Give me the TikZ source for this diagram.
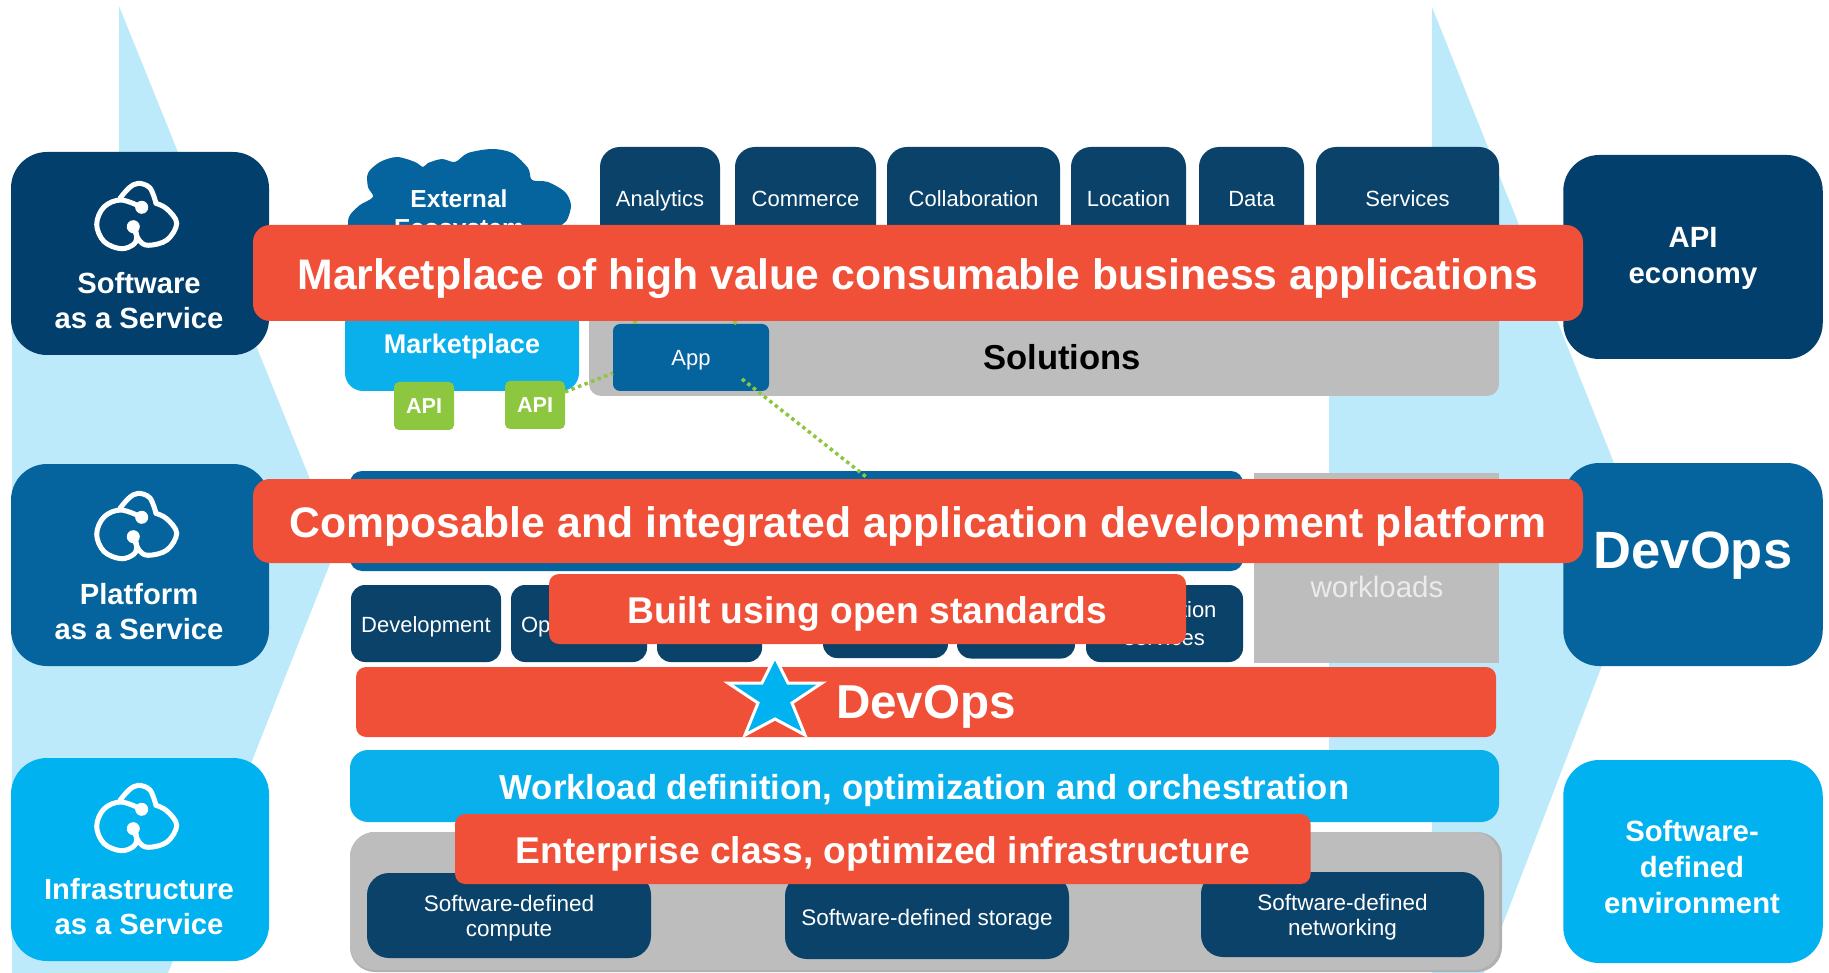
\documentclass[tikz,border=0pt]{standalone}
\usepackage{fontspec}
\setmainfont{Liberation Sans}
\usepackage{xcolor}
\usepackage{tikz}
\usetikzlibrary{calc, positioning}
\definecolor{navyBlue}{HTML}{033F6C}
\definecolor{midBlue}{HTML}{05649E}
\definecolor{skyBlue}{HTML}{00B2EF}
\definecolor{barBlue}{HTML}{0AB0EC}
\definecolor{tileBlue}{HTML}{0A4269}
\definecolor{paleBlue}{HTML}{BDEAFA}
\definecolor{redBand}{HTML}{F15038}
\definecolor{softGray}{HTML}{BDBDBD}
\definecolor{apiGreen}{HTML}{8DC63F}
\newcommand{\fsz}[2]{\fontsize{#1}{#2}\selectfont}
\newcommand{\dropText}[2]{\raisebox{-#1}[0pt][0pt]{#2}}
\tikzset{
    panel/.style={rectangle, rounded corners=36pt, inner sep=0pt, outer sep=0pt, text=white, align=center},
    tile/.style={rectangle, rounded corners=14pt, fill=tileBlue, inner sep=0pt, outer sep=0pt, text=white, align=center, font=\fsz{22}{28}},
    oneLine/.style={text height=22pt, text depth=5pt},
    topTile/.style={tile, oneLine, rounded corners=20pt, minimum height=103pt},
    lowTile/.style={tile, minimum height=77pt},
    sdTile/.style={tile, rounded corners=22pt, minimum height=85pt},
    sdText/.style={text=white, align=center, font=\fsz{22.5}{25}},
    band/.style={rectangle, rounded corners=10pt, fill=redBand, inner sep=0pt, outer sep=0pt, text=white, align=center, font=\bfseries},
    bigBand/.style={band, rounded corners=17pt, minimum width=1330pt, font=\bfseries\fsz{42.7}{44}},
    sideText/.style={text=white, align=center, font=\bfseries\fsz{29.2}{35}},
    rightText/.style={text=white, align=center, font=\bfseries\fsz{29.3}{36}},
    apiTag/.style={rectangle, rounded corners=5pt, fill=apiGreen, minimum width=60pt, minimum height=48pt, inner sep=0pt, outer sep=0pt, text=white, font=\bfseries\fsz{21.6}{24}},
    apiLink/.style={draw=apiGreen, line width=3.5pt, dash pattern=on 3.5pt off 3.5pt},
    svcIcon/.pic={
        \draw[white, line width=5pt, line cap=round] plot[smooth, tension=0.6] coordinates {(4.7,-7.7) (-16,-15) (-33,-8) (-40.3,9.3) (-33,26.5) (-16,33.7) (-3,29) (-0.3,20) (-3.7,11.7)};
        \draw[white, line width=5pt, line cap=round] plot[smooth, tension=0.6] coordinates {(-3.7,11.7) (2,25) (11.3,30.3) (30,25) (39.7,8.3) (30,-6) (19,-11.7)};
        \draw[white, line width=5pt, line cap=round] plot[smooth, tension=0.6] coordinates {(-17,-16.7) (-8,-27) (1.3,-31.7) (13,-27) (19,-11.7)};
        \fill[white] (4.7,-7.7) circle (6.5pt) (-3.7,11.7) circle (6.5pt);
    }
}
\begin{document}
\begin{tikzpicture}[x=1pt, y=-1pt]
    \useasboundingbox (0,0) rectangle (1829,973);
    % Arrows behind
    \fill[paleBlue] (119,6) -- (337,546) -- (168,973) -- (12,973) -- (12,300) -- (119,300) -- cycle;
    \fill[paleBlue] (1432,7) -- (1647.5,547) -- (1484,973) -- (1432,973) -- (1432,800) -- (1329,800) -- (1329,396) -- (1432,396) -- cycle;

    % Left column
    \node[panel, fill=navyBlue, minimum width=258pt, minimum height=203pt] (saasBox) at (140,253.5) {};
    \node[panel, fill=midBlue, minimum width=258pt, minimum height=202pt] (paasBox) at (140,565) {};
    \node[panel, fill=skyBlue, minimum width=258pt, minimum height=203pt] (iaasBox) at (140,859.5) {};
    \pic at (137,215) {svcIcon};
    \pic at (137,525) {svcIcon};
    \pic at (137,817) {svcIcon};
    \node[sideText] (saasText) at (139,301) {Software\\as a Service};
    \node[sideText] (paasText) at (139,612) {Platform\\as a Service};
    \node[sideText] (iaasText) at (139,907) {Infrastructure\\as a Service};

    % Right column
    \node[panel, fill=navyBlue, minimum width=259.5pt, minimum height=204pt] (apiBox) at (1693,257) {};
    \node[panel, fill=midBlue, minimum width=259.5pt, minimum height=203pt] (devBox) at (1693,564.5) {};
    \node[panel, fill=skyBlue, minimum width=259.5pt, minimum height=203pt] (sdeBox) at (1693,861.5) {};
    \node[rightText] (apiText) at (1693,258) {API\\economy};
    \node[rightText, font=\bfseries\fsz{52.5}{56}] (devText) at (1693,556) {DevOps};
    \node[rightText] (sdeText) at (1692,867.5) {Software-\\defined\\environment};

    % Top row
    \node[topTile, minimum width=120pt] (tabAnalytics) at (660,198.5) {Analytics};
    \node[topTile, minimum width=141pt, right=15pt of tabAnalytics] (tabCommerce) {Commerce};
    \node[topTile, minimum width=173pt, right=11pt of tabCommerce] (tabCollab) {Collaboration};
    \node[topTile, minimum width=115pt, right=11pt of tabCollab] (tabLocation) {Location};
    \node[topTile, minimum width=105pt, right=13pt of tabLocation] (tabData) {Data};
    \node[topTile, minimum width=183pt, right=12pt of tabData] (tabServices) {Services};

    % Cloud and marketplace
    \fill[midBlue] plot[smooth cycle, tension=0.5] coordinates {(348,224) (350,215) (360,205) (373,197) (368,187) (368,173) (380,162) (397,157) (415,162) (423,167) (428,163) (442,159) (455,162) (468,153) (492,149) (512,153) (528,168) (532,180) (548,182) (565,192) (571,205) (567,220) (558,230) (558,255) (348,255)};
    \node[text=white, align=center, font=\bfseries\fsz{24.6}{29}] (extText) at (459,215.5) {External\\Ecosystem};
    \node[panel, rounded corners=18pt, fill=barBlue, minimum width=234pt, minimum height=94pt, text height=25pt, text depth=6pt, font=\bfseries\fsz{27}{30}] (marketBox) at (462,344) {Marketplace};
    \node[apiTag] (apiOne) at (424,406) {API};
    \node[apiTag] (apiTwo) at (535,405) {API};

    % Solutions
    \node[panel, rounded corners=12pt, fill=softGray, minimum width=910pt, minimum height=96pt] (solBox) at (1044,348) {};
    \node[text=black, font=\bfseries\fsz{34.6}{38}] (solText) at (1062,357) {Solutions};
    \node[panel, oneLine, rounded corners=7pt, fill=midBlue, minimum width=156pt, minimum height=67pt, font=\fsz{22}{26}] (appTile) at (691,357.5) {App};

    % Platform
    \node[panel, rounded corners=12pt, fill=midBlue, minimum width=893pt, minimum height=100pt] (platBar) at (796.5,521) {};
    \node[rectangle, fill=softGray, minimum width=245pt, minimum height=190pt, inner sep=0pt, outer sep=0pt] (loadBox) at (1376.5,568) {};
    \node[text=white!92!black, font=\fsz{29.5}{32}] (loadText) at (1377,587) {workloads};
    \node[lowTile, oneLine, minimum width=150pt] (devTile) at (426,623.5) {Development};
    \node[lowTile, minimum width=136pt, right=10pt of devTile] (opTile) {};
    \node[tile, oneLine, fill=none, anchor=west, xshift=10pt] (opText) at (opTile.west) {Op};
    \node[lowTile, minimum width=105pt, right=10pt of opTile] (thirdTile) {};
    \node[tile, minimum width=125pt, minimum height=58pt] (fourthTile) at (885.5,629) {};
    \node[tile, minimum width=118pt, minimum height=59pt, right=9pt of fourthTile] (fifthTile) {};
    \node[lowTile, minimum width=157pt] (lastTile) at (1164.5,623.5) {Integration\\services};

    % Links
    \draw[apiLink] ([yshift=13pt]apiTwo.east) -- ([yshift=-15.5pt]appTile.west);
    \draw[apiLink] ([xshift=51pt,yshift=-21.5pt]appTile.center) -- ([xshift=71pt,yshift=-7pt]platBar.north);
    \draw[apiLink] ([xshift=-56pt]appTile.north) -- ([xshift=-25pt]tabAnalytics.south);
    \draw[apiLink] ([xshift=43pt]appTile.north) -- (tabCommerce.south);

    % Lower stack
    \node[band, minimum width=1140pt, minimum height=70pt, font=\bfseries\fsz{47.6}{50}] (devopsBar) at (926,702) {\dropText{16pt}{DevOps}};
    \fill[skyBlue, draw=white, line width=3pt, line join=miter] (775,657) -- (788,683) -- (822,683) -- (792,703) -- (805,735) -- (775,719) -- (745,735) -- (758,703) -- (728,683) -- (762,683) -- cycle;
    \node[band, rounded corners=18pt, fill=barBlue, minimum width=1149pt, minimum height=72pt, font=\bfseries\fsz{34.7}{40}] (workBar) at (924.5,786) {\dropText{13pt}{Workload definition, optimization and orchestration}};
    \node[panel, rounded corners=25pt, fill=softGray!93!black, minimum width=1152pt, minimum height=140pt] (infraBack) at (926,902) {};
    \node[panel, rounded corners=25pt, fill=softGray, minimum width=1149pt, minimum height=138pt] (infraBox) at (924.5,901) {};
    \node[sdTile, minimum width=284pt] (sdCompute) at (509,915.5) {};
    \node[sdTile, minimum width=284pt] (sdStorage) at (927,916.5) {};
    \node[sdTile, minimum width=283pt] (sdNetwork) at (1342.5,914.5) {};
    \node[sdText] (computeText) at ([yshift=-3pt]sdCompute.center) {Software-defined\\compute};
    \node[sdText] (storageText) at ([yshift=-3pt]sdStorage.center) {Software-defined storage};
    \node[sdText] (networkText) at ([yshift=-3pt]sdNetwork.center) {Software-defined\\networking};

    % Red bands on top
    \node[bigBand, minimum height=96pt] (marketBand) at (918,273) {\dropText{17pt}{Marketplace of high value consumable business applications}};
    \node[bigBand, minimum height=84pt] (platformBand) at (918,521) {\dropText{16.5pt}{Composable and integrated application development platform}};
    \node[band, minimum width=637pt, minimum height=70pt, font=\bfseries\fsz{37.2}{40}] (builtBand) at (867.5,609) {\dropText{14.3pt}{Built using open standards}};
    \node[band, minimum width=855.5pt, minimum height=70pt, font=\bfseries\fsz{37.2}{40}] (infraBand) at (882.8,849) {\dropText{14.3pt}{Enterprise class, optimized infrastructure}};
\end{tikzpicture}
\end{document}
